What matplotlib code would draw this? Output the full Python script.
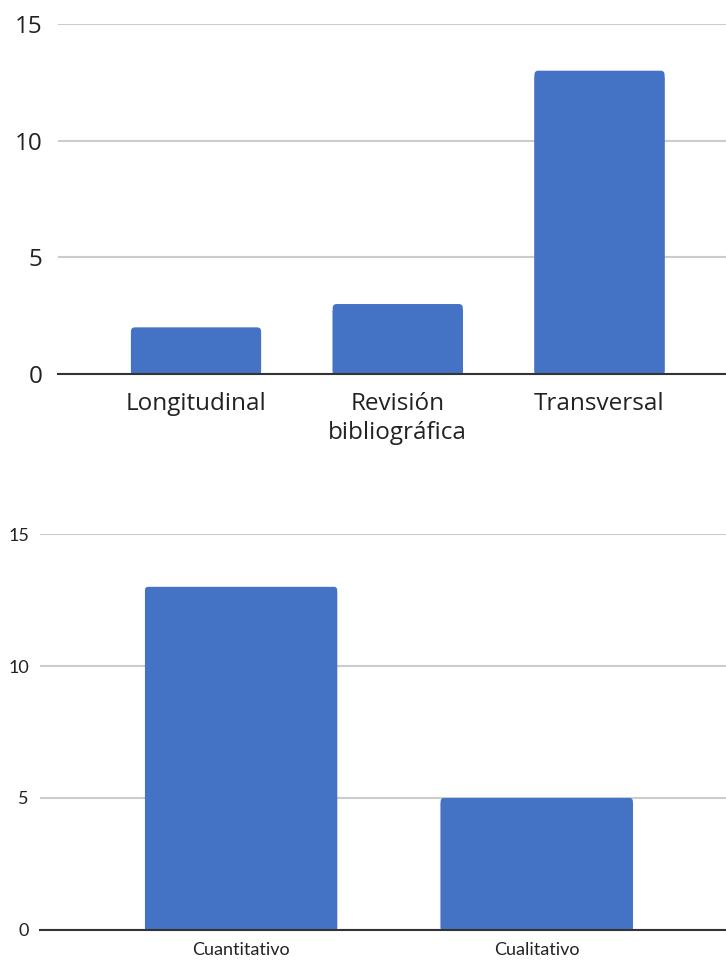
import matplotlib
matplotlib.use("Agg")
import matplotlib.pyplot as plt
from matplotlib.patches import FancyBboxPatch, Rectangle

# Tipo de estudio
tipos = ["Longitudinal", "Revisión\nbibliográfica", "Transversal"]
tipos_n = [2, 3, 13]

# Enfoque
enfoques = ["Cuantitativo", "Cualitativo"]
enfoques_n = [13, 5]

y_ticks = [0, 5, 10, 15]
azul = "#4472C4"

fig = plt.figure(figsize=(7.26, 9.61), dpi=100)


def barras_redondeadas(ax, x, valores, ancho, radio_px=4):
    # barras con las esquinas superiores redondeadas
    fig.canvas.draw()
    bb = ax.get_window_extent()
    x0, x1 = ax.get_xlim()
    y0, y1 = ax.get_ylim()
    px_x = bb.width / (x1 - x0)
    px_y = bb.height / (y1 - y0)
    r = radio_px / px_x
    aspecto = px_x / px_y
    for xi, v in zip(x, valores):
        izq = xi - ancho / 2
        ax.add_patch(FancyBboxPatch((izq, 0), ancho, v,
                                    boxstyle=f"round,pad=0,rounding_size={r}",
                                    mutation_aspect=aspecto, snap=False,
                                    facecolor=azul, edgecolor="none", zorder=3))
        # parte inferior recta
        ax.add_patch(Rectangle((izq, 0), ancho, v - 1.5 * r * aspecto,
                               facecolor=azul, edgecolor="none", snap=False,
                               linewidth=0, zorder=3))


def estilo(ax, fuente, tam, pad_y, pad_x):
    ax.set_ylim(0, 15)
    ax.set_yticks(y_ticks)
    ax.grid(axis="y", color="#cccccc", linewidth=1.5, zorder=0)
    ax.set_axisbelow(True)
    for lado in ["top", "right", "left"]:
        ax.spines[lado].set_visible(False)
    ax.spines["bottom"].set_color("#333333")
    ax.spines["bottom"].set_linewidth(1.5)
    ax.spines["bottom"].set_zorder(5)
    ax.tick_params(axis="both", length=0, labelcolor="#222222")
    ax.tick_params(axis="y", pad=pad_y)
    ax.tick_params(axis="x", pad=pad_x)
    for t in ax.get_xticklabels() + ax.get_yticklabels():
        t.set_fontfamily(fuente)
        t.set_fontsize(tam)


# Gráfico superior
ax1 = fig.add_axes([0.0799, 0.6108, 0.9201, 0.3642])
x1 = list(range(len(tipos)))
ax1.set_xticks(x1)
ax1.set_xticklabels(tipos, linespacing=1.3)
ax1.set_xlim(-0.684, 2.627)
estilo(ax1, "Open Sans", 17.5, 11, 13)
barras_redondeadas(ax1, x1, tipos_n, 0.645)

# Gráfico inferior
ax2 = fig.add_axes([0.0551, 0.0323, 0.9449, 0.412])
x2 = list(range(len(enfoques)))
ax2.set_xticks(x2)
ax2.set_xticklabels(enfoques)
ax2.set_xlim(-0.68, 1.64)
estilo(ax2, "Lato", 13, 8, 9)
barras_redondeadas(ax2, x2, enfoques_n, 0.65, radio_px=3)

fig.savefig("out.png", dpi=100)
